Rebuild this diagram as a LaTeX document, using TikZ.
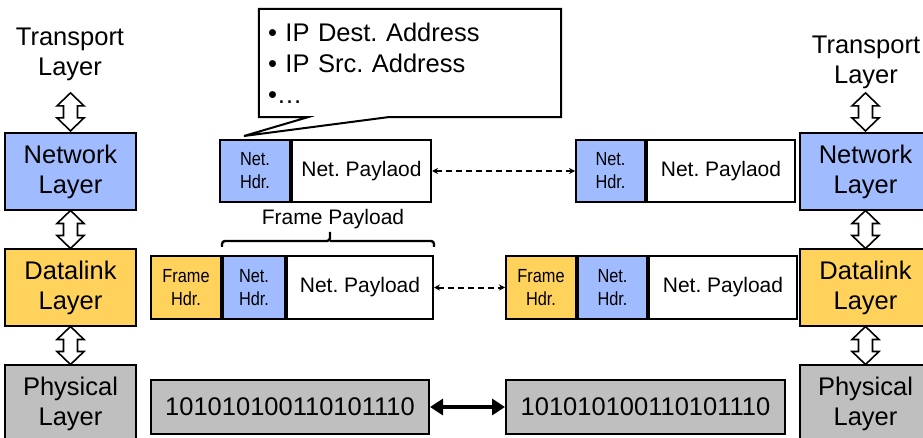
\documentclass[tikz,border=0pt]{standalone}
\usepackage{fontspec}
\setmainfont{Liberation Sans}
\newfontfamily\narrowsf[FakeStretch=0.86]{Liberation Sans}
\usepackage{tikz}
\usetikzlibrary{positioning,calc,shapes,arrows.meta}
\definecolor{netblue}{RGB}{160,188,255}
\definecolor{dlyellow}{RGB}{255,210,92}
\definecolor{phygray}{RGB}{191,191,191}
\newcommand{\layerfont}{\fontsize{25.5}{30}\selectfont}
\newcommand{\pktfont}{\fontsize{21}{24}\selectfont}
\newcommand{\hdrfont}{\fontsize{19}{23}\selectfont\narrowsf}
\frenchspacing
% hollow two-headed arrow between two layers
\tikzset{updown/.pic={
	\draw[line width=1.6pt, fill=white, line join=miter] (0,-19) -- (13.5,-6) -- (7,-6) -- (7,6) -- (13.5,6) -- (0,19)
		-- (-13.5,6) -- (-7,6) -- (-7,-6) -- (-13.5,-6) -- cycle;
}}

\begin{document}
\begin{tikzpicture}[x=1pt,y=-1pt]
\tikzstyle{layer}=[rectangle, draw=black, line width=2.2pt, minimum width=131pt, minimum height=77pt, inner sep=0pt, align=center, font=\layerfont]
\tikzstyle{cell}=[rectangle, draw=black, line width=2pt, inner sep=0pt, align=center]
\tikzstyle{pdu}=[{Stealth[length=6pt,width=6pt]}-{Stealth[length=6pt,width=6pt]}, line width=2pt, dash pattern=on 6pt off 4pt]
\tikzstyle{bits}=[{Triangle[length=13pt,width=16pt]}-{Triangle[length=13pt,width=16pt]}, line width=4pt]
\useasboundingbox (0,0) rectangle (923,438);

	% protocol stacks
	\node (tl) at (70,54) [align=center, font=\layerfont]{Transport\\Layer};
	\node[layer, fill=netblue] (nl) at (70.5,171.5) {Network\\Layer};
	\node[layer, fill=dlyellow] (dl) at (70.5,287.5) {Datalink\\Layer};
	\node[layer, fill=phygray] (pl) at (70.5,403.5) {Physical\\Layer};
	\node (tr) at (866,62) [align=center, font=\layerfont]{Transport\\Layer};
	\node[layer, fill=netblue] (nr) at (865.5,171.5) {Network\\Layer};
	\node[layer, fill=dlyellow] (dr) at (865.5,287.5) {Datalink\\Layer};
	\node[layer, fill=phygray] (pr) at (865.5,403.5) {Physical\\Layer};

	\pic at ($(nl.north)+(0,-20)$) {updown};
	\pic at ($(nl.south)!0.5!(dl.north)$) {updown};
	\pic at ($(dl.south)!0.5!(pl.north)$) {updown};
	\pic at ($(nr.north)+(0,-20)$) {updown};
	\pic at ($(nr.south)!0.5!(dr.north)$) {updown};
	\pic at ($(dr.south)!0.5!(pr.north)$) {updown};

	% network packets
	\node[cell, fill=netblue, minimum width=70pt, minimum height=62pt, font=\hdrfont] (nh1) at (255,171) {Net.\\Hdr.};
	\node[cell, fill=white, minimum width=139pt, minimum height=62pt, font=\pktfont, right=0pt of nh1] (np1) {Net. Paylaod};
	\node[cell, fill=netblue, minimum width=69pt, minimum height=62pt, font=\hdrfont] (nh2) at (610.5,171) {Net.\\Hdr.};
	\node[cell, fill=white, minimum width=148pt, minimum height=62pt, font=\pktfont, right=0pt of nh2] (np2) {Net. Paylaod};

	% frames
	\node[cell, fill=dlyellow, minimum width=70pt, minimum height=63pt, font=\hdrfont] (fh1) at (186,287.5) {Frame\\Hdr.};
	\node[cell, fill=netblue, minimum width=62pt, minimum height=63pt, font=\hdrfont, right=0pt of fh1] (fn1) {Net.\\Hdr.};
	\node[cell, fill=white, minimum width=146pt, minimum height=63pt, font=\pktfont, right=0pt of fn1] (fp1) {Net. Payload};
	\node[cell, fill=dlyellow, minimum width=70pt, minimum height=63pt, font=\hdrfont] (fh2) at (541,287.5) {Frame\\Hdr.};
	\node[cell, fill=netblue, minimum width=69pt, minimum height=63pt, font=\hdrfont, right=0pt of fh2] (fn2) {Net.\\Hdr.};
	\node[cell, fill=white, minimum width=148pt, minimum height=63pt, font=\pktfont, right=0pt of fn2] (fp2) {Net. Payload};

	% bit streams
	\node[cell, fill=phygray, minimum width=278pt, minimum height=54pt, font=\layerfont] (b1) at (290,407) {101010100110101110};
	\node[cell, fill=phygray, minimum width=279pt, minimum height=54pt, font=\layerfont] (b2) at (645.5,407) {101010100110101110};

	% frame payload brace
	\node (fpl) at (333,219) [font=\pktfont]{Frame Payload};
	\draw[line width=2.4pt, rounded corners=3pt] ($(fn1.north west)+(0,-8)$) -- ($(fn1.north west)+(0,-14)$) -- ($(fp1.north east)+(-104,-14)$) -- ($(fp1.north east)+(-104,-23)$)
		($(fp1.north east)+(-104,-14)$) -- ($(fp1.north east)+(0,-14)$) -- ($(fp1.north east)+(0,-8)$);

	% header callout
	\node (info) at (410,63) [minimum width=302pt, minimum height=108pt, inner sep=0pt]{};
	\coordinate (ptr) at ($(nh1.north west)+(25,-3)$);
	\draw[line width=2pt, fill=white] (info.south west) -- ($(info.south west)+(49,0)$) -- (ptr) -- ($(info.south west)+(129,0)$) -- (info.south east) -- (info.north east) -- (info.north west) -- cycle;
	\node (infotxt) at (info.center) [text width=284pt, align=left, font=\fontsize{25.5}{31}\selectfont]{\textbullet\ IP Dest. Address\\\textbullet\ IP Src. Address\\\textbullet\dots};

	\path
		(np1) edge [pdu] (nh2)
		(fp1) edge [pdu] (fh2)
		(b1) edge [bits] (b2);

\end{tikzpicture}
\end{document}
